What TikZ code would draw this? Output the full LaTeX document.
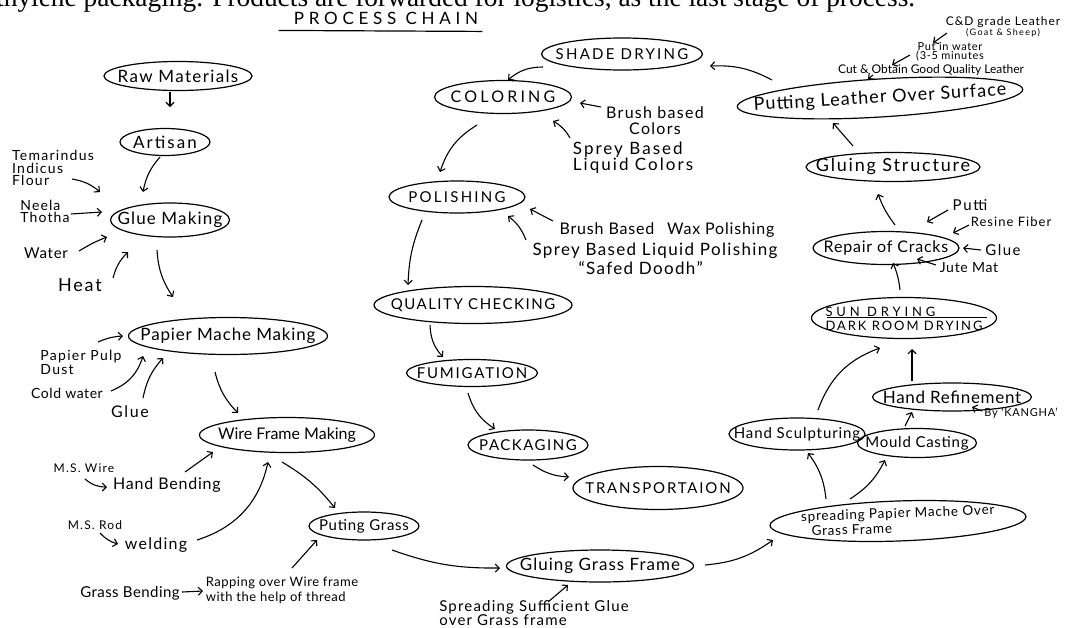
\documentclass[tikz,border=0pt]{standalone}
\usepackage{fontspec}
\setmainfont{Lato}
\newfontfamily\serifface{Liberation Serif}
\usetikzlibrary{shapes.geometric,arrows.meta,calc}
\newcommand\fsz[1]{\fontsize{#1}{#1}\selectfont}
\newcommand\fsb[2]{\fontsize{#1}{#2}\selectfont}
\newcommand\lsp[1]{\addfontfeatures{LetterSpace=#1}}
\begin{document}
\begin{tikzpicture}[x=1pt,y=-1pt,
  oval/.style 2 args={draw, ellipse, line width=1.2pt, inner sep=0pt, minimum width=#1pt, minimum height=#2pt},
  arr/.style={line width=1.1pt, -{Straight Barb[length=4pt,width=8pt]}},
  note/.style={inner sep=0pt, align=left},
]
\useasboundingbox (0,0) rectangle (1065,627);
\fill[white] (0,0) rectangle (1065,627);

% cut-off line of page text
\node[anchor=base west, inner sep=0pt] (top) at (-4,6) {\resizebox{919pt}{!}{\serifface thylene packaging. Products are forwarded for logistics, as the last stage of process.}};

% title
\node[inner sep=0pt] (title) at (386,18) {\fsz{17}\lsp{28}PROCESS CHAIN};
\draw[line width=1.2pt] ($(title.south west)+(-15,6)$) -- ($(title.south east)+(4,7)$);

% process nodes
\node[oval={148}{29}] (raw) at (178,76) {\makebox[0pt]{\fsz{17}\lsp{8}Raw Materials}};
\node[oval={90}{27}] (artisan) at (165,142) {\makebox[0pt]{\fsz{17}\lsp{12}Artisan}};
\node[oval={119}{34}] (glue) at (170,220) {\makebox[0pt]{\fsz{17}\lsp{7}Glue Making}};
\node[oval={199}{37}] (papier) at (228,336) {\makebox[0pt]{\fsz{17}\lsp{5}Papier Mache Making}};
\node[oval={175}{35}] (wire) at (287,435) {\makebox[0pt]{\fsz{16}Wire Frame Making}};
\node[oval={110}{28}] (puting) at (364,526) {\makebox[0pt]{\fsz{15}\lsp{5}Puting Grass}};
\node[oval={187}{32}] (gluing) at (600,566) {\makebox[0pt]{\fsz{17}\lsp{6}Gluing Grass Frame}};
\node[oval={256}{40}, rotate=2] (spreadpm) at (898,521) {\makebox[0pt]{\smash{\raisebox{-5pt}{\fsb{13.5}{15}\lsp{6}\begin{tabular}{@{}l@{}}spreading Papier Mache Over\\\hspace*{10pt}Grass Frame\end{tabular}}}}};
\node[oval={136}{32}] (sculpt) at (797,434) {\makebox[0pt]{\fsz{15}\lsp{6}Hand Sculpturing}};
\node[oval={119}{29}] (mould) at (917,443) {\makebox[0pt]{\fsz{15}\lsp{5}Mould Casting}};
\node[oval={159}{28}] (refine) at (952,397) {\makebox[0pt]{\fsz{17}\lsp{4}Hand Refinement}};
\node[oval={185}{41}] (sun) at (904,318) {\makebox[0pt]{\smash{\raisebox{-6pt}{\fsb{13}{14}\begin{tabular}{@{}l@{}}{\lsp{30}SUN DRYING}\\{\lsp{15}DARK ROOM DRYING}\end{tabular}}}}};
\draw[line width=1pt] ($(sun.center)+(-77,-1)$) -- ($(sun.center)+(83,-1)$);
\node[oval={146}{33}] (repair) at (886,248) {\makebox[0pt]{\fsz{16}\lsp{5}Repair of Cracks}};
\node[oval={174}{29}] (gstruct) at (893,167) {\makebox[0pt]{\fsz{18}\lsp{10}Gluing Structure}};
\node[oval={286}{38}, rotate=3.5] (leather) at (880,98) {\makebox[0pt]{\fsz{18}\lsp{6}Putting Leather Over Surface}};
\node[oval={161}{32}] (shade) at (622,54) {\makebox[0pt]{\fsz{15}\lsp{15}SHADE DRYING}};
\node[oval={137}{33}] (coloring) at (503,97) {\makebox[0pt]{\fsz{16}\lsp{20}COLORING}};
\node[oval={136}{32}] (polish) at (457,197) {\makebox[0pt]{\fsz{15}\lsp{15}POLISHING}};
\node[oval={198}{37}] (quality) at (473,305) {\makebox[0pt]{\fsz{15}\lsp{10}QUALITY CHECKING}};
\node[oval={131}{27}] (fumig) at (472,373) {\makebox[0pt]{\fsz{15}\lsp{12}FUMIGATION}};
\node[oval={120}{30}] (pack) at (528,445) {\makebox[0pt]{\fsz{15}\lsp{10}PACKAGING}};
\node[oval={170}{43}] (transp) at (658,488) {\makebox[0pt]{\fsz{15}\lsp{12}TRANSPORTAION}};

% annotation texts
\node[note, font={\fsb{14}{12.5}\lsp{9}}] (tam) at (53,168) {Temarindus\\Indicus\\Flour};
\node[note, font={\fsb{14}{12}\lsp{8}}] (neela) at (45,211) {Neela\\Thotha};
\node[note, font={\fsz{15}\lsp{5}}] (water) at (46,253) {Water};
\node[note, font={\fsz{18}\lsp{10}}] (heat) at (80,285) {Heat};
\node[note, font={\fsb{14}{14}\lsp{9}}] (pulp) at (81,362) {Papier Pulp\\Dust};
\node[note, font={\fsz{14}\lsp{4}}] (cold) at (67,393) {Cold water};
\node[note, font={\fsz{16}\lsp{10}}] (glueb) at (130,412) {Glue};
\node[note, font={\fsz{12}\lsp{10}}] (mswire) at (84,468) {M.S. Wire};
\node[note, font={\fsz{16}\lsp{5}}] (handbend) at (167,485) {Hand Bending};
\node[note, font={\fsz{12}\lsp{10}}] (msrod) at (95,525) {M.S. Rod};
\node[note, font={\fsz{16}\lsp{8}}] (weld) at (156,545) {welding};
\node[note, font={\fsz{15}\lsp{3}}] (gbend) at (130,593) {Grass Bending};
\node[note, font={\fsb{13}{15}\lsp{4}}] (rapping) at (282,590) {Rapping over Wire frame\\with the help of thread};
\node[note, font={\fsb{15}{13}\lsp{8}}] (spreadglue) at (534,613) {Spreading Sufficient Glue\\over Grass frame};
\node[note, align=center, font={\fsb{16}{16}\lsp{8}}] (brushc) at (655,121) {Brush based\\Colors};
\node[note, font={\fsb{17}{16}\lsp{12}}] (spreyc) at (633,158) {Sprey Based\\Liquid Colors};
\node[note, font={\fsz{16}\lsp{5}}] (brushp) at (667,230) {Brush Based\hspace{8pt} Wax Polishing};
\node[note, font={\fsb{17}{19}\lsp{8}}] (spreyp) at (655,259) {Sprey Based Liquid Polishing\\\hspace*{46pt}``Safed Doodh''};
\node[note, font={\fsz{15}\lsp{12}}] (putti) at (970,205) {Putti};
\node[note, font={\fsz{13}\lsp{8}}] (resine) at (1011,222) {Resine Fiber};
\node[note, font={\fsz{15}\lsp{10}}] (glueg) at (1003,250) {Glue};
\node[note, font={\fsz{14}\lsp{5}}] (jute) at (969,268) {Jute Mat};
\node[note, font={\fsz{11}\lsp{7}}] (kangha) at (1021,413) {By `KANGHA'};
\node[note, align=center, font={\fsb{12}{10}\lsp{8}}] (cd) at (1003,27) {C\&D grade Leather\\{\fsz{9}\lsp{15}(Goat \& Sheep)}};
\node[note, align=center, font={\fsb{11}{9}\lsp{6}}] (put) at (950,52) {Put in water\\(3-5 minutes};
\node[note, font=\fsz{12}] (cut) at (931,70) {Cut \& Obtain Good Quality Leather};

% main chain
\draw[arr] ($(raw.center)+(-8,16)$) -- ($(artisan.center)+(5,-35)$);
\draw[arr] ($(artisan.center)+(-5,15)$) to[bend right=15] ($(glue.center)+(-27,-28)$);
\draw[arr] ($(glue.center)+(-13,30)$) to[bend right=15] ($(papier.center)+(-55,-39)$);
\draw[arr] ($(papier.center)+(-13,36)$) to[bend right=15] ($(wire.center)+(-49,-22)$);
\draw[arr] ($(wire.center)+(-5,27)$) to[bend left=10] ($(puting.center)+(-29,-18)$);
\draw[arr] ($(puting.center)+(28,24)$) to[bend right=10] ($(gluing.center)+(-100,2)$);
\draw[arr] ($(gluing.center)+(105,-1)$) to[bend right=15] ($(spreadpm.center)+(-125,19)$);
\draw[arr] ($(spreadpm.center)+(-72,-22)$) to[bend right=15] ($(sculpt.center)+(11,19)$);
\draw[arr] ($(spreadpm.center)+(-48,-22)$) to[bend right=15] ($(mould.center)+(-32,17)$);
\draw[arr] ($(mould.center)+(-12,-17)$) -- ($(refine.center)+(-40,15)$);
\draw[arr] ($(sculpt.center)+(21,-24)$) to[bend left=25] ($(sun.center)+(-24,30)$);
\draw[arr] ($(refine.center)+(-40,-16)$) -- ($(sun.center)+(8,31)$);
\draw[arr] ($(sun.center)+(-4,-28)$) to[bend right=8] ($(repair.center)+(7,15)$);
\draw[arr] ($(repair.center)+(9,-23)$) to[bend left=8] ($(gstruct.center)+(-15,27)$);
\draw[arr] ($(gstruct.center)+(-40,-21)$) -- ($(leather.center)+(-47,25)$);
\draw[arr] ($(leather.center)+(-108,-18)$) to[bend right=15] ($(shade.center)+(88,12)$);
\draw[arr] ($(shade.center)+(-79,13)$) to[bend right=20] ($(coloring.center)+(5,-17)$);
\draw[arr] ($(coloring.center)+(-26,28)$) to[bend right=20] ($(polish.center)+(-17,-25)$);
\draw[arr] ($(polish.center)+(-35,23)$) to[bend right=10] ($(quality.center)+(-65,-20)$);
\draw[arr] ($(quality.center)+(-43,20)$) to[bend right=20] ($(fumig.center)+(-29,-16)$);
\draw[arr] ($(fumig.center)+(-4,20)$) to[bend right=20] ($(pack.center)+(-33,-16)$);
\draw[arr] ($(pack.center)+(5,20)$) to[bend right=15] ($(transp.center)+(-89,-11)$);

% annotation arrows
\draw[arr] ($(tam.center)+(19,11)$) to[bend left=15] ($(glue.center)+(-70,-28)$);
\draw[arr] ($(neela.center)+(26,3)$) -- ($(glue.center)+(-68,-8)$);
\draw[arr] ($(water.center)+(33,-2)$) to[bend left=5] ($(glue.center)+(-63,17)$);
\draw[arr] ($(heat.center)+(33,-7)$) to[bend left=15] ($(glue.center)+(-42,32)$);
\draw[arr] ($(pulp.center)+(17,-20)$) to[bend left=10] ($(papier.center)+(-105,0)$);
\draw[arr] ($(cold.center)+(44,-2)$) to[bend right=25] ($(papier.center)+(-85,20)$);
\draw[arr] ($(glueb.center)+(13,-14)$) to[bend left=15] ($(papier.center)+(-65,22)$);
\draw[arr] ($(mswire.center)+(1,11)$) to[bend right=20] ($(handbend.center)+(-60,2)$);
\draw[arr] ($(handbend.center)+(18,-13)$) -- ($(wire.center)+(-74,17)$);
\draw[arr] ($(msrod.center)+(5,8)$) to[bend right=15] ($(weld.center)+(-38,-1)$);
\draw[arr] ($(weld.center)+(41,-5)$) to[bend right=30] ($(wire.center)+(-19,27)$);
\draw[arr] ($(gbend.center)+(52,-1)$) -- ($(rapping.center)+(-79,1)$);
\draw[arr] ($(rapping.center)+(10,-22)$) -- ($(puting.center)+(-47,14)$);
\draw[arr] ($(spreadglue.center)+(14,-11)$) -- ($(gluing.center)+(-32,19)$);
\draw[arr] ($(brushc.center)+(-54,-14)$) -- ($(coloring.center)+(77,6)$);
\draw[arr] ($(spreyc.center)+(-63,-20)$) to[bend right=15] ($(coloring.center)+(50,24)$);
\draw[arr] ($(brushp.center)+(-114,-9)$) -- ($(polish.center)+(73,12)$);
\draw[arr] ($(spreyp.center)+(-129,-19)$) to[bend right=15] ($(polish.center)+(51,19)$);
\draw[arr] ($(putti.center)+(-22,5)$) -- ($(repair.center)+(41,-26)$);
\draw[arr] ($(resine.center)+(-42,3)$) -- ($(repair.center)+(67,-15)$);
\draw[arr] ($(glueg.center)+(-22,0)$) -- ($(repair.center)+(77,0)$);
\draw[arr] ($(jute.center)+(-33,-3)$) -- ($(repair.center)+(31,11)$);
\draw[arr] ($(kangha.center)+(-39,-2)$) -- ($(refine.center)+(20,10)$);
\draw[arr] ($(cd.center)+(-56,6)$) -- ($(put.center)+(-17,-9)$);
\draw[arr] ($(put.center)+(-40,3)$) -- ($(cut.center)+(-39,-5)$);
\draw[arr] ($(cut.center)+(-58,5)$) -- ($(leather.center)+(-12,-19)$);
\end{tikzpicture}
\end{document}
